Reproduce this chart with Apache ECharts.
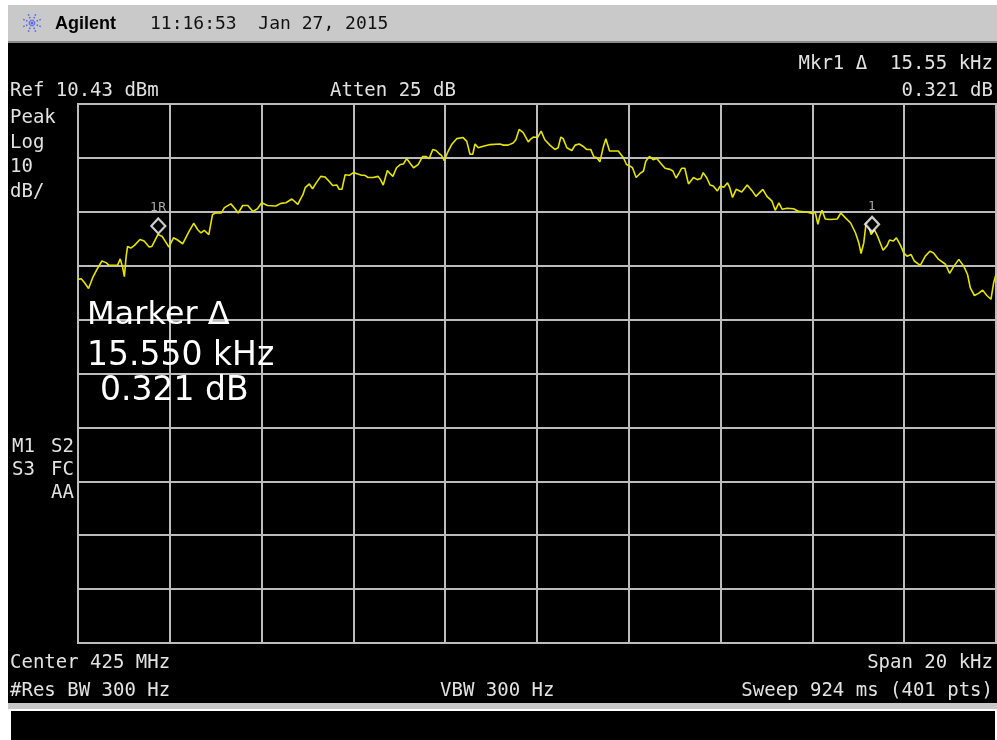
<!DOCTYPE html>
<html>
<head>
<meta charset="utf-8">
<script src="https://cdn.jsdelivr.net/npm/echarts@6/dist/echarts.min.js"></script>
<style>
html,body{margin:0;padding:0;background:#fff;}
#chart{width:997px;height:740px;}
</style>
</head>
<body>
<div id="chart"></div>
<script>
// ---- Data (frequency offset from center, kHz; level, dBm) ----
const freqKHz = [
-10.00,-9.93,-9.86,-9.77,-9.68,-9.59,-9.48,-9.39,-9.32,-9.14,-9.08,-9.03,-8.99,-8.95,-8.92,-8.85,-8.77,-8.65,-8.56,-8.45,-8.39,-8.26,-8.17,-8.08,-8.02,-7.92,-7.83,-7.72,-7.58,-7.48,-7.39,-7.32,-7.25,-7.15,-7.07,-7.01,-6.88,-6.81,-6.67,-6.57,-6.51,-6.41,-6.30,-6.19,-6.09,-6.00,-5.87,-5.69,-5.58,-5.47,-5.34,-5.21,
-5.16,-5.10,-5.05,-4.96,-4.89,-4.81,-4.71,-4.62,-4.53,-4.45,-4.36,-4.31,-4.25,-4.18,-4.09,-4.00,-3.92,-3.82,-3.75,-3.68,-3.57,-3.46,-3.41,-3.35,-3.26,-3.20,-3.14,-3.06,-2.98,-2.91,-2.84,-2.77,-2.69,-2.59,-2.49,-2.42,-2.35,-2.27,-2.20,-2.13,-2.08,-2.02,-1.95,-1.86,-1.75,-1.61,-1.53,-1.46,-1.40,-1.35,-1.28,-1.17,-1.02,-0.81,-0.73,-0.63,-0.52,-0.46,-0.39,-0.30,-0.19,
-0.15,-0.08,0.01,0.09,0.17,0.28,0.39,0.46,0.52,0.57,0.65,0.76,0.83,0.92,1.00,1.08,1.17,1.24,1.30,1.37,1.44,1.50,1.58,1.65,1.77,1.88,1.95,2.03,2.08,2.16,2.24,2.32,2.37,2.45,2.53,2.61,2.69,2.79,2.90,2.96,3.03,3.10,3.15,3.22,3.30,3.41,3.49,3.57,3.62,3.70,3.77,3.84,3.93,3.99,4.07,4.15,4.20,4.26,4.34,4.46,4.58,4.68,4.77,
4.92,5.01,5.12,5.19,5.27,5.34,5.45,5.59,5.70,5.88,5.99,6.06,6.12,6.16,6.21,6.28,6.39,6.54,6.62,6.72,6.83,6.94,7.01,7.06,7.12,7.17,7.23,7.28,7.35,7.42,7.54,7.63,7.68,7.76,7.83,7.92,7.99,8.06,8.15,8.22,8.35,8.46,8.56,8.64,8.75,8.90,8.99,9.08,9.19,9.30,9.38,9.44,9.53,9.62,9.71,9.80,9.89,9.95,10.00
];
const levelDbm = [
-22.1,-22.0,-22.7,-23.8,-21.8,-20.3,-18.7,-19.0,-19.5,-19.5,-18.3,-19.8,-21.6,-17.8,-16.0,-16.3,-15.8,-14.7,-15.0,-16.1,-16.0,-13.8,-14.1,-15.3,-16.1,-14.4,-14.8,-15.5,-13.2,-11.7,-12.9,-13.5,-13.0,-13.8,-10.1,-9.8,-9.8,-8.8,-8.1,-9.1,-9.8,-8.4,-8.4,-9.5,-9.0,-7.9,-8.4,-8.5,-8.0,-7.9,-7.2,-8.2,
-7.3,-6.4,-5.1,-4.4,-5.3,-4.2,-3.0,-3.1,-3.9,-4.7,-4.6,-5.4,-5.4,-2.7,-2.8,-2.3,-2.5,-2.8,-2.8,-3.2,-3.2,-3.0,-3.6,-4.6,-1.9,-2.5,-3.0,-1.4,-0.8,-0.7,0.3,-0.5,-1.4,-0.8,0.7,0.7,0.3,2.0,1.8,1.2,0.9,-0.1,1.4,2.9,4.0,4.2,3.5,1.1,1.1,3.0,2.3,2.6,2.9,3.0,2.8,2.8,3.2,3.8,5.7,5.1,3.4,
3.8,4.3,4.2,5.4,3.8,2.8,2.0,2.3,4.3,4.0,2.3,1.8,2.8,3.0,2.6,2.0,2.0,0.6,0.5,-0.3,2.3,4.0,1.7,1.7,1.7,0.5,-0.8,-1.1,-1.4,-3.2,-2.5,-2.0,-0.2,0.7,0.1,0.3,-0.5,-1.5,-1.7,-2.0,-3.3,-2.3,-1.5,-1.5,-4.4,-3.2,-3.6,-3.4,-2.3,-3.3,-4.6,-4.8,-5.7,-4.8,-5.0,-4.2,-5.1,-6.9,-5.4,-5.9,-4.6,-5.6,-6.7,
-5.4,-6.7,-7.6,-9.3,-7.9,-9.1,-8.9,-9.0,-9.5,-9.6,-9.9,-9.6,-11.9,-10.4,-9.3,-10.9,-11.0,-10.9,-9.8,-10.7,-11.6,-13.5,-15.3,-17.3,-15.3,-11.6,-12.4,-13.8,-12.9,-14.1,-16.7,-15.8,-14.8,-15.0,-14.4,-15.8,-17.2,-17.8,-17.5,-18.7,-19.5,-17.8,-16.9,-17.2,-18.4,-19.3,-21.0,-19.7,-18.4,-19.7,-21.2,-23.7,-25.1,-24.7,-24.1,-25.1,-25.8,-22.7,-21.2
];
const markerNames = ['1R', '1'];
const markerFreqKHz = [-8.25, 7.30];
const markerLevelDbm = [-12.2, -11.9];

const refLevelDbm = 10.43;
const dbPerDiv = 10;
const divisions = 10;
const spanKHz = 20;

const headerLeft = 'Agilent';
const headerTime = '11:16:53  Jan 27, 2015';
const topTexts = {
  mkr1: 'Mkr1 \u0394  15.55 kHz',
  mkr2: '0.321 dB',
  ref: 'Ref 10.43 dBm',
  atten: 'Atten 25 dB'
};
const sideTexts = ['Peak', 'Log', '10', 'dB/'];
const statusLeft = ['M1', 'S3', ''];
const statusRight = ['S2', 'FC', 'AA'];
const markerBlock = ['Marker \u0394', '15.550 kHz', '0.321 dB'];
const bottomTexts = {
  center: 'Center 425 MHz',
  span: 'Span 20 kHz',
  rbw: '#Res BW 300 Hz',
  vbw: 'VBW 300 Hz',
  sweep: 'Sweep 924 ms (401 pts)'
};

// ---- Chart ----
const chart = echarts.init(document.getElementById('chart'), null, {renderer: 'canvas'});
const MONO = "'DejaVu Sans Mono', 'Liberation Mono', monospace";
const SANS = "'DejaVu Sans', 'Liberation Sans', sans-serif";
const TXT = '#e2e2e2';
const GRIDC = '#bcbcbc';

function t(x, y, text, opts) {
  opts = opts || {};
  return {
    type: 'text', x: x, y: y, z: 100,
    style: {
      text: text,
      fill: opts.fill || TXT,
      font: opts.font || ('19px ' + MONO),
      textAlign: opts.align || 'left',
      textVerticalAlign: 'middle'
    }
  };
}

const logoLines = [];
for (let k = 0; k < 8; k++) {
  const a = k * Math.PI / 4 + Math.PI / 8;
  logoLines.push({
    type: 'line', z: 50,
    shape: {x1: 32 + Math.cos(a) * 2, y1: 23 + Math.sin(a) * 2, x2: 32 + Math.cos(a) * 10, y2: 23 + Math.sin(a) * 10},
    style: {stroke: '#5566ee', lineWidth: 1.6, lineDash: [1.5, 1.5]}
  });
}

const graphics = [
  {type: 'rect', z: -100, shape: {x: 8, y: 5, width: 989, height: 37}, style: {fill: '#c9c9c9'}},
  {type: 'rect', z: -100, shape: {x: 8, y: 41, width: 989, height: 2}, style: {fill: '#8a8a8a'}},
  {type: 'rect', z: -100, shape: {x: 8, y: 43, width: 989, height: 660}, style: {fill: '#000'}},
  {type: 'rect', z: -100, shape: {x: 8, y: 703, width: 989, height: 6}, style: {fill: '#c8c8c8'}},
  {type: 'rect', z: -100, shape: {x: 11, y: 711, width: 984, height: 29}, style: {fill: '#000'}},
  ...logoLines,
  {type: 'circle', z: 50, shape: {cx: 32, cy: 23, r: 1.5}, style: {fill: '#5566ee'}},
  t(55, 24, headerLeft, {fill: '#000', font: 'bold 18px "Liberation Sans", Arial, sans-serif'}),
  t(150, 24, headerTime, {fill: '#111', font: '18px ' + MONO}),
  t(993, 64, topTexts.mkr1, {align: 'right'}),
  t(993, 91, topTexts.mkr2, {align: 'right'}),
  t(10, 91, topTexts.ref),
  t(330, 91, topTexts.atten),
  t(10, 118, sideTexts[0]),
  t(10, 143, sideTexts[1]),
  t(10, 167, sideTexts[2]),
  t(10, 192, sideTexts[3]),
  t(12, 447, statusLeft[0]),
  t(74, 447, statusRight[0], {align: 'right'}),
  t(12, 470, statusLeft[1]),
  t(74, 470, statusRight[1], {align: 'right'}),
  t(74, 493, statusRight[2], {align: 'right'}),
  t(87, 316, markerBlock[0], {fill: '#fff', font: '32px ' + SANS}),
  t(87, 356, markerBlock[1], {fill: '#fff', font: '33px ' + SANS}),
  t(100, 391, markerBlock[2], {fill: '#fff', font: '33px ' + SANS}),
  t(10, 663, bottomTexts.center),
  t(993, 663, bottomTexts.span, {align: 'right'}),
  t(10, 691, bottomTexts.rbw),
  t(440, 691, bottomTexts.vbw),
  t(993, 691, bottomTexts.sweep, {align: 'right'})
];

const traceData = freqKHz.map((f, i) => [f, levelDbm[i]]);
const markerData = markerNames.map((n, i) => ({name: n, value: [markerFreqKHz[i], markerLevelDbm[i]]}));

chart.setOption({
  animation: false,
  backgroundColor: '#ffffff',
  grid: {left: 78, top: 104, width: 918, height: 539, show: true, borderColor: GRIDC, borderWidth: 2, backgroundColor: 'transparent'},
  xAxis: {
    type: 'value', min: -spanKHz / 2, max: spanKHz / 2, interval: spanKHz / divisions,
    axisLabel: {show: false}, axisTick: {show: false}, axisLine: {show: false},
    splitLine: {show: true, lineStyle: {color: GRIDC, width: 2}}
  },
  yAxis: [
    {
      type: 'value', min: 0, max: divisions, interval: 1,
      axisLabel: {show: false}, axisTick: {show: false}, axisLine: {show: false},
      splitLine: {show: true, lineStyle: {color: GRIDC, width: 2}}
    },
    {
      type: 'value', show: false,
      min: refLevelDbm - dbPerDiv * divisions, max: refLevelDbm,
      splitLine: {show: false}
    }
  ],
  graphic: graphics,
  series: [
    {
      type: 'line', yAxisIndex: 1, data: traceData, symbol: 'none',
      lineStyle: {color: '#e4e400', width: 1.6}, z: 5, silent: true
    },
    {
      type: 'scatter', yAxisIndex: 1, data: markerData, symbol: 'diamond', symbolSize: [14, 15],
      itemStyle: {color: '#000', borderColor: '#ffffff', borderWidth: 2.2}, z: 6,
      label: {show: true, position: 'top', distance: 3, formatter: '{b}', color: '#d8d8d8', fontSize: 12, fontFamily: 'DejaVu Sans'}
    }
  ]
});
</script>
</body>
</html>
